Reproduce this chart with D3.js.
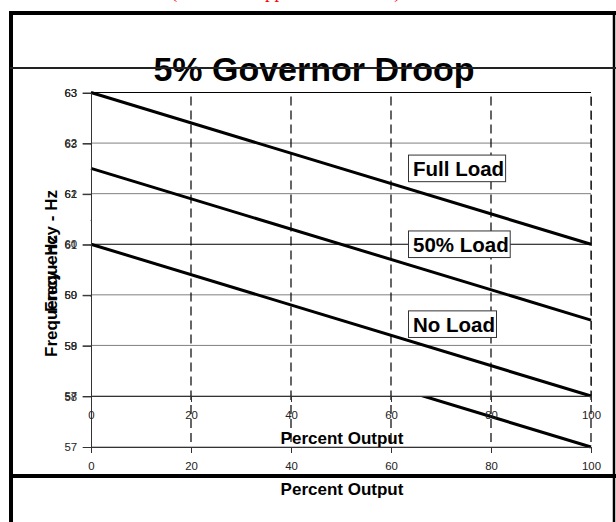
<!DOCTYPE html>
<html lang="en">
<head>
    <meta charset="UTF-8">
    <title>5% Governor Droop</title>
    <script src="https://d3js.org/d3.v7.min.js"></script>
    <style>
        body {
            margin: 0;
            background: white;
        }
        svg {
            display: block;
        }
        svg text {
            font-family: "Liberation Sans", Arial, sans-serif;
        }
        .grid {
            stroke: #808080;
            stroke-width: 1;
        }
        .grid.dark {
            stroke: #000;
        }
        .vgrid {
            stroke: #000;
            stroke-width: 1.2;
            stroke-dasharray: 9 5;
            stroke-dashoffset: 10;
        }
        .load-line {
            stroke: #000;
            stroke-width: 3;
            fill: none;
        }
        .axis path, .axis line {
            stroke: #333;
        }
        .axis text {
            font-size: 11.4px;
            fill: #222;
        }
    </style>
</head>
<body>
<div id="chart"></div>
<script>
    // chart values
    const xTicks = [0, 20, 40, 60, 80, 100];
    const innerYTicks = [57, 58, 59, 60, 61, 62, 63];
    const outerYTicks = [57, 58, 59, 60, 61, 62, 63, 64];
    const outerYLabels = ["57", "58", "59", "60", "61", "62", "63", "63"];
    const loads = ["Full Load", "50% Load", "No Load"];
    const outputPct = [0, 100];
    const startHz = [63, 61.5, 60];
    const endHz = [60, 58.5, 57];
    const labelHz = [61.5, 60, 58.42];
    const labelPct = 64.4;

    const width = 616, height = 522;
    const svg = d3.select('#chart').append('svg')
        .attr('width', width)
        .attr('height', height);

    const x = d3.scaleLinear([0, 100], [91, 591]);
    const yIn = d3.scaleLinear([57, 63], [396, 92.5]);
    const yOut = d3.scaleLinear([57, 64], [447, 93]);

    const series = loads.map((name, i) => ({
        name,
        points: outputPct.map((p, j) => ({ pct: p, hz: j === 0 ? startHz[i] : endHz[i] }))
    }));

    // red note, mostly cut off at the top of the page
    svg.append('text')
        .attr('x', 171).attr('y', -2)
        .style('font-family', '"Liberation Serif", "Times New Roman", serif')
        .style('font-size', '19px')
        .attr('fill', 'red')
        .text('(Curves as applied to the unit)');

    // frame
    const frame = svg.append('g').attr('stroke', '#000').attr('fill', 'none');
    frame.append('line').attr('x1', 9).attr('x2', 616).attr('y1', 13).attr('y2', 13).attr('stroke-width', 4);
    frame.append('line').attr('x1', 11).attr('x2', 11).attr('y1', 11).attr('y2', 522).attr('stroke-width', 4);
    frame.append('line').attr('x1', 614).attr('x2', 614).attr('y1', 11).attr('y2', 522).attr('stroke-width', 2.5);
    frame.append('line').attr('x1', 11).attr('x2', 616).attr('y1', 476).attr('y2', 476).attr('stroke-width', 4);

    function drawChart(y, yTicks, yLabels, opts) {
        const g = svg.append('g');
        const top = y.range()[1], bottom = y.range()[0];

        if (opts.background) {
            g.append('rect')
                .attr('x', x(0)).attr('y', top)
                .attr('width', x(100) - x(0)).attr('height', bottom - top)
                .attr('fill', 'white');
        }

        g.selectAll('.grid').data(yTicks).join('line')
            .attr('class', d => (opts.darkLines.includes(d) ? 'grid dark' : 'grid'))
            .attr('x1', x(0)).attr('x2', x(100))
            .attr('y1', d => y(d)).attr('y2', d => y(d));

        g.selectAll('.vgrid').data(xTicks.slice(1)).join('line')
            .attr('class', 'vgrid')
            .attr('x1', d => x(d)).attr('x2', d => x(d))
            .attr('y1', top).attr('y2', bottom);

        const line = d3.line().x(d => x(d.pct)).y(d => y(d.hz));
        g.selectAll('.load-line').data(series).join('path')
            .attr('class', 'load-line')
            .attr('d', d => line(d.points));

        const yAxis = g.append('g')
            .attr('class', 'axis')
            .attr('transform', `translate(${x(0)},0)`)
            .call(d3.axisLeft(y).tickValues(yTicks).tickSize(8.3).tickSizeOuter(0).tickPadding(5.5)
                .tickFormat((d, i) => yLabels[i]));
        yAxis.select('.domain').attr('stroke', '#333');

        g.append('g')
            .attr('class', 'axis')
            .attr('transform', `translate(0,${bottom})`)
            .call(d3.axisBottom(x).tickValues(xTicks).tickSize(6).tickSizeOuter(0).tickPadding(8.5))
            .call(a => a.select('.domain').attr('stroke', opts.xAxisColor));

        g.append('text')
            .attr('x', 342).attr('y', bottom + opts.xTitleOffset)
            .attr('text-anchor', 'middle')
            .style('font-size', '17px').style('font-weight', 'bold')
            .text('Percent Output');

        g.append('text')
            .attr('transform', `translate(56.5,${opts.yTitleCenter}) rotate(-90)`)
            .attr('text-anchor', 'middle')
            .style('font-size', '17px').style('font-weight', 'bold')
            .text('Frequency - Hz');
        return g;
    }

    // chart drawn twice, one on top of the other
    drawChart(yOut, outerYTicks, outerYLabels, {
        background: false, darkLines: [], xAxisColor: '#808080', xTitleOffset: 48, yTitleCenter: 296
    });
    const inner = drawChart(yIn, innerYTicks, innerYTicks.map(String), {
        background: true, darkLines: [60, 63], xAxisColor: '#000', xTitleOffset: 48, yTitleCenter: 251
    });

    // load labels in boxes
    loads.forEach((name, i) => {
        const lg = inner.append('g');
        const t = lg.append('text')
            .attr('x', x(labelPct)).attr('y', yIn(labelHz[i]) + 7.4)
            .style('font-size', '20.5px').style('font-weight', 'bold')
            .text(name);
        const b = t.node().getBBox();
        lg.insert('rect', 'text')
            .attr('x', b.x - 4.5).attr('y', yIn(labelHz[i]) - 13.3)
            .attr('width', b.width + 6).attr('height', 26.6)
            .attr('fill', 'white').attr('stroke', '#333').attr('stroke-width', 1);
    });

    // title, crossed by a thin rule
    svg.append('text')
        .attr('x', 314).attr('y', 81)
        .attr('text-anchor', 'middle')
        .style('font-size', '34px').style('font-weight', 'bold')
        .text('5% Governor Droop');
    svg.append('line')
        .attr('x1', 10).attr('x2', 616).attr('y1', 68).attr('y2', 68)
        .attr('stroke', '#222').attr('stroke-width', 2);
</script>
</body>
</html>
